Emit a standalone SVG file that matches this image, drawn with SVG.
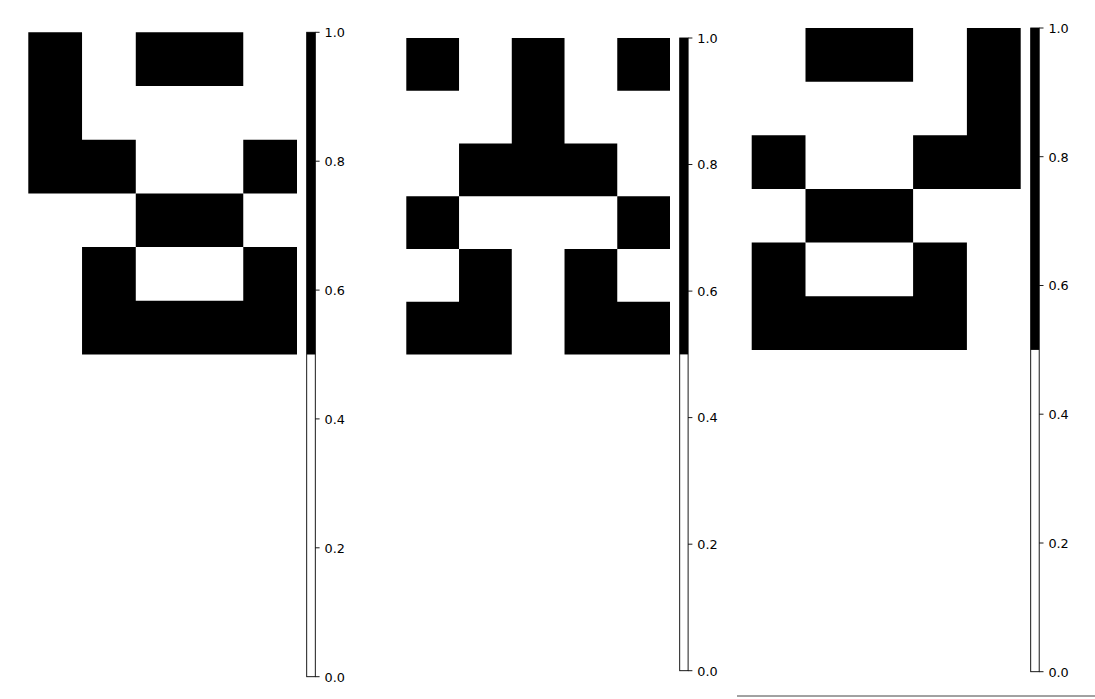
<svg xmlns="http://www.w3.org/2000/svg" width="1095" height="699" viewBox="0 0 1095 699">
<style>
.cell{fill:#000}
.cbw{fill:#fff}
.cbb{fill:#000}
.cbo{fill:none;stroke:#000;stroke-width:0.9}
.tick{stroke:#000;stroke-width:0.9}
.lbl{font-family:"DejaVu Sans",sans-serif;font-size:12.8px;fill:#000}
</style>
<rect width="1095" height="699" fill="#fff"/>
<g id="panel1">
<g id="image1">
<path class="cell" d="M28.3,32.3 H82.04 V139.7 H135.78 V193.4 H28.3 Z"/>
<path class="cell" d="M135.78,32.3 H243.26 V86 H135.78 Z"/>
<path class="cell" d="M243.26,139.7 H297 V193.4 H243.26 Z"/>
<path class="cell" d="M135.78,193.4 H243.26 V247.1 H135.78 Z"/>
<path class="cell" d="M82.04,247.1 H135.78 V300.8 H243.26 V247.1 H297 V354.5 H82.04 Z"/>
</g>
<g id="colorbar1">
<rect class="cbw" x="306.7" y="32.3" width="8.6" height="644.4"/>
<rect class="cbb" x="306.7" y="32.3" width="8.6" height="322.2"/>
<rect class="cbo" x="306.7" y="32.3" width="8.6" height="644.4"/>
<line class="tick" x1="315.3" y1="32.3" x2="319.6" y2="32.3"/>
<line class="tick" x1="315.3" y1="161.2" x2="319.6" y2="161.2"/>
<line class="tick" x1="315.3" y1="290.1" x2="319.6" y2="290.1"/>
<line class="tick" x1="315.3" y1="418.9" x2="319.6" y2="418.9"/>
<line class="tick" x1="315.3" y1="547.8" x2="319.6" y2="547.8"/>
<line class="tick" x1="315.3" y1="676.7" x2="319.6" y2="676.7"/>
<text class="lbl" x="324.5" y="37.1">1.0</text>
<text class="lbl" x="324.5" y="166">0.8</text>
<text class="lbl" x="324.5" y="294.9">0.6</text>
<text class="lbl" x="324.5" y="423.7">0.4</text>
<text class="lbl" x="324.5" y="552.6">0.2</text>
<text class="lbl" x="324.5" y="681.5">0.0</text>
</g>
</g>
<g id="panel2">
<g id="image2">
<path class="cell" d="M406.3,38 H459.04 V90.73 H406.3 Z"/>
<path class="cell" d="M617.26,38 H670 V90.73 H617.26 Z"/>
<path class="cell" d="M511.78,38 H564.52 V143.46 H617.26 V196.19 H459.04 V143.46 H511.78 Z"/>
<path class="cell" d="M406.3,196.19 H459.04 V248.92 H406.3 Z"/>
<path class="cell" d="M617.26,196.19 H670 V248.92 H617.26 Z"/>
<path class="cell" d="M459.04,248.92 H511.78 V354.4 H406.3 V301.65 H459.04 Z"/>
<path class="cell" d="M564.52,248.92 H617.26 V301.65 H670 V354.4 H564.52 Z"/>
</g>
<g id="colorbar2">
<rect class="cbw" x="679.7" y="38" width="8.4" height="632.7"/>
<rect class="cbb" x="679.7" y="38" width="8.4" height="316.4"/>
<rect class="cbo" x="679.7" y="38" width="8.4" height="632.7"/>
<line class="tick" x1="688.1" y1="38" x2="692.4" y2="38"/>
<line class="tick" x1="688.1" y1="164.5" x2="692.4" y2="164.5"/>
<line class="tick" x1="688.1" y1="291.1" x2="692.4" y2="291.1"/>
<line class="tick" x1="688.1" y1="417.6" x2="692.4" y2="417.6"/>
<line class="tick" x1="688.1" y1="544.2" x2="692.4" y2="544.2"/>
<line class="tick" x1="688.1" y1="670.7" x2="692.4" y2="670.7"/>
<text class="lbl" x="697.3" y="42.8">1.0</text>
<text class="lbl" x="697.3" y="169.3">0.8</text>
<text class="lbl" x="697.3" y="295.9">0.6</text>
<text class="lbl" x="697.3" y="422.4">0.4</text>
<text class="lbl" x="697.3" y="549">0.2</text>
<text class="lbl" x="697.3" y="675.5">0.0</text>
</g>
</g>
<g id="panel3">
<g id="image3">
<path class="cell" d="M805.5,28 H913.1 V81.65 H805.5 Z"/>
<path class="cell" d="M966.9,28 H1020.7 V188.95 H913.1 V135.3 H966.9 Z"/>
<path class="cell" d="M751.7,135.3 H805.5 V188.95 H751.7 Z"/>
<path class="cell" d="M805.5,188.95 H913.1 V242.6 H805.5 Z"/>
<path class="cell" d="M751.7,242.6 H805.5 V296.25 H913.1 V242.6 H966.9 V349.9 H751.7 Z"/>
</g>
<g id="colorbar3">
<rect class="cbw" x="1030.7" y="28" width="8.5" height="643.7"/>
<rect class="cbb" x="1030.7" y="28" width="8.5" height="321.9"/>
<rect class="cbo" x="1030.7" y="28" width="8.5" height="643.7"/>
<line class="tick" x1="1039.2" y1="28" x2="1043.5" y2="28"/>
<line class="tick" x1="1039.2" y1="156.7" x2="1043.5" y2="156.7"/>
<line class="tick" x1="1039.2" y1="285.5" x2="1043.5" y2="285.5"/>
<line class="tick" x1="1039.2" y1="414.2" x2="1043.5" y2="414.2"/>
<line class="tick" x1="1039.2" y1="543" x2="1043.5" y2="543"/>
<line class="tick" x1="1039.2" y1="671.7" x2="1043.5" y2="671.7"/>
<text class="lbl" x="1048.4" y="32.8">1.0</text>
<text class="lbl" x="1048.4" y="161.5">0.8</text>
<text class="lbl" x="1048.4" y="290.3">0.6</text>
<text class="lbl" x="1048.4" y="419">0.4</text>
<text class="lbl" x="1048.4" y="547.8">0.2</text>
<text class="lbl" x="1048.4" y="676.5">0.0</text>
</g>
<line id="baseline" x1="737" y1="696" x2="1095" y2="696" stroke="#444" stroke-width="1"/>
</g>
</svg>
